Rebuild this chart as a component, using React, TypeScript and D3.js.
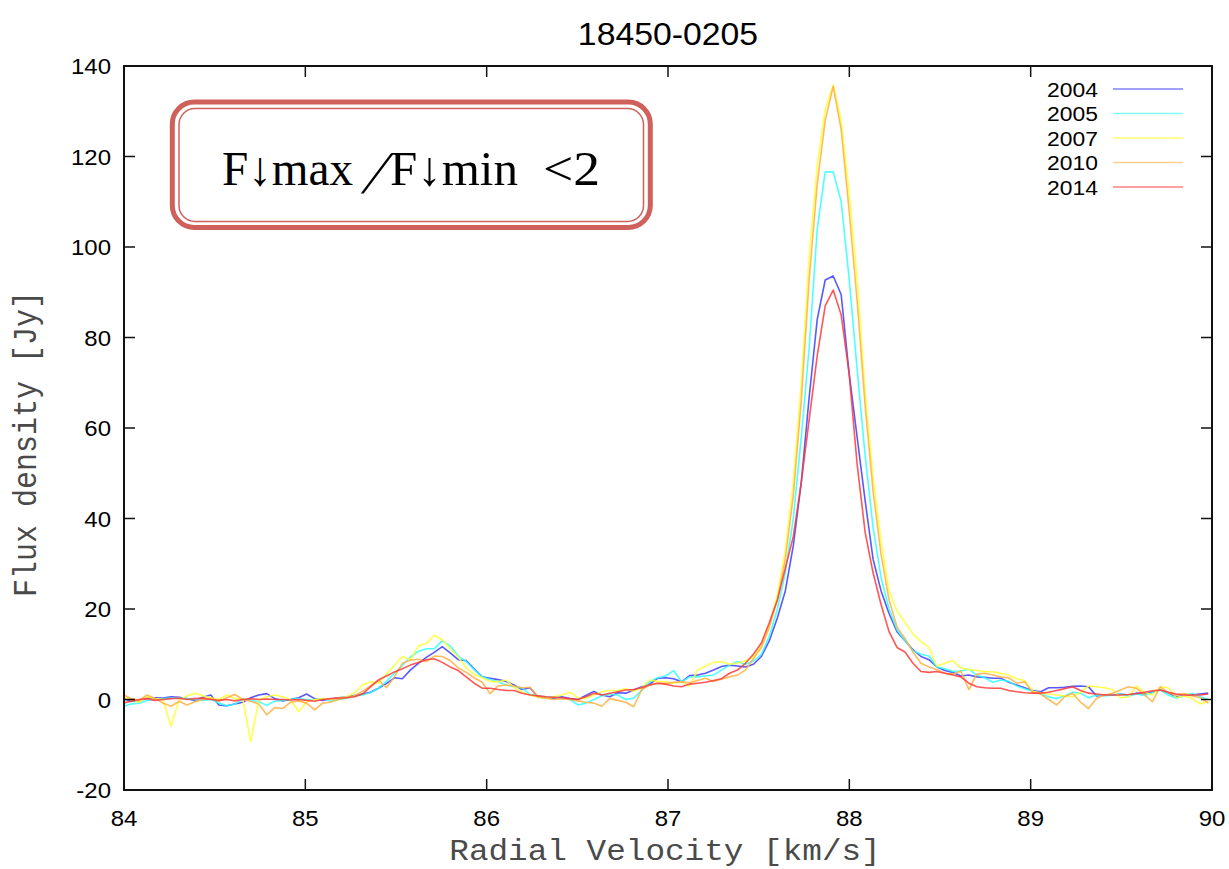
import React from 'react';
import * as d3 from 'd3';

const TITLE = '18450-0205';
const X_LABEL = 'Radial Velocity [km/s]';
const Y_LABEL = 'Flux density [Jy]';
const YEARS = ['2004', '2005', '2007', '2010', '2014'];
const COLORS = ['#3c3cff', '#30ffff', '#ffff30', '#ffb040', '#ff3838'];
const LEGEND_COLORS = ['#8080ff', '#80ffff', '#ffff70', '#ffd090', '#ff8080'];
const X_TICKS = [84, 85, 86, 87, 88, 89, 90];
const Y_TICKS = [-20, 0, 20, 40, 60, 80, 100, 120, 140];
const CHANNEL_START = 83.995;
const CHANNEL_STEP = 0.044;

const FLUX_2004 = [
  0.2, -0.4, -0.3, 0.3, 0.4, 0.3, 0.6, 0.5, 0.2, -0.2,
  0.5, 1.0, -1.2, -1.4, -1.0, -0.6, 0.4, 1.0, 1.3, 0.2,
  -0.3, 0.0, 0.4, 1.2, 0.2, -0.2, 0.1, 0.4, 0.6, 0.9,
  1.2, 1.6, 2.5, 3.5, 4.8, 4.6, 6.5, 8.0, 9.3, 10.4,
  11.7, 10.3, 8.8, 8.6, 6.8, 5.0, 4.7, 4.4, 4.0, 3.2,
  2.2, 2.6, 0.5, 0.4, 0.3, 0.6, 0.2, 0.0, 0.9, 1.8,
  1.0, 0.6, 1.5, 1.4, 2.1, 2.8, 3.4, 4.7, 4.8, 4.6,
  3.9, 5.3, 5.4, 5.8, 6.5, 7.3, 7.6, 7.4, 7.2, 7.8,
  9.5, 13, 18, 24, 34, 48, 67, 84, 92.7, 93.6,
  89.5, 72, 58, 44, 31, 24, 19, 15, 13, 11,
  9.5, 8.8, 7.2, 6.4, 6.0, 5.2, 5.4, 5.0, 4.9, 4.7,
  4.7, 3.8, 3.2, 2.6, 2.0, 1.7, 2.6, 2.6, 2.7, 2.9,
  3.0, 2.8, 0.8, 1.0, 1.0, 1.2, 1.0, 1.4, 1.2, 1.6,
  2.1, 1.5, 0.6, 0.9, 1.0, 1.2, 1.4,
];

const FLUX_2005 = [
  -1.6, -1.0, -0.8, -0.2, 0.0, 0.2, 0.3, 0.4, 0.2, 0.0,
  -0.2, 0.0, -0.8, -1.4, -1.0, 0.1, -0.2, -0.5, -1.3, -0.4,
  -0.2, 0.0, 0.2, 0.0, -0.1, 0.2, -0.4, 0.0, 0.3, 0.8,
  1.0, 1.5, 2.5, 4.0, 5.8, 7.5, 9.4, 10.6, 11.2, 11.2,
  13.0, 11.8, 9.6, 8.4, 6.6, 5.0, 4.4, 3.9, 3.2, 2.8,
  2.6, 1.1, 0.8, 0.6, 0.6, 0.3, 0.0, -1.2, -0.8, 0.0,
  0.8, 1.2, 1.0, 0.0, 0.3, 2.0, 3.9, 4.8, 5.2, 6.4,
  3.9, 5.0, 5.0, 5.2, 5.4, 6.5, 7.6, 8.4, 7.8, 8.5,
  10, 14, 20, 28, 40, 58, 78, 104, 116.6, 116.6,
  110, 93, 73, 54, 38, 27, 20, 15.4, 13, 10.8,
  10, 9.6, 7.2, 6.8, 6.2, 6.3, 6.7, 5.4, 4.8, 3.8,
  4.3, 4.0, 3.0, 2.4, 1.8, 1.2, 0.6, 0.2, 0.8, 1.6,
  1.4, 0.4, 1.0, 0.8, 1.0, 1.2, 0.7, 1.2, 0.9, 1.5,
  2.1, 1.0, 0.3, 0.8, 1.4, 0.6, 0.0,
];

const FLUX_2007 = [
  0.5, 0.0, -0.6, 0.6, 0.2, 0.0, -5.9, -0.2, 0.8, 1.4,
  0.8, 0.4, 0.0, 1.0, 0.2, 0.0, -9.3, -0.2, 0.6, 1.0,
  0.6, 0.0, -2.7, -0.5, 0.0, 0.2, 0.0, 0.3, 0.6, 1.5,
  3.2, 3.9, 3.6, 5.6, 7.5, 9.5, 8.8, 11.8, 12.4, 14.2,
  13.2, 11.2, 9.4, 7.0, 5.6, 4.8, 4.0, 3.9, 4.3, 2.7,
  1.6, 1.0, 0.5, 0.3, 0.6, 1.0, 1.6, 0.4, 0.2, 1.0,
  1.7, 2.0, 2.0, 2.4, 1.8, 2.6, 4.3, 4.0, 3.9, 3.6,
  3.9, 3.0, 6.5, 7.4, 8.2, 8.4, 7.8, 8.0, 8.5, 9.5,
  12, 16.5, 23, 33, 48, 70, 98, 118, 130.5, 135.8,
  128, 112, 93, 68, 49, 35, 24, 19.5, 17, 14.5,
  12.8, 11.5, 7.4, 8.0, 8.6, 7.0, 6.6, 6.4, 6.2, 6.1,
  5.8, 5.4, 4.6, 4.2, 1.8, 1.5, 1.2, 1.0, 0.8, 0.6,
  1.6, 3.0, 2.8, 2.6, 2.2, 0.4, 0.6, 3.0, 1.6, 1.0,
  2.8, 2.6, 0.4, 0.8, 0.2, -1.0, -0.4,
];

const FLUX_2010 = [
  1.1, 0.2, -0.2, 1.0, 0.2, -0.8, -1.5, -0.4, -1.2, -0.5,
  0.0, 0.2, -0.4, 0.4, 1.1, 0.0, -0.4, -1.0, -3.4, -1.8,
  -2.0, -0.6, -0.3, -0.8, -2.3, -0.8, -0.6, 0.0, 0.4, 0.8,
  1.8, 3.0, 4.3, 2.6, 5.0, 8.0, 8.7, 8.9, 8.4, 9.6,
  9.5, 8.6, 7.0, 6.0, 4.8, 3.8, 1.3, 3.0, 3.2, 3.0,
  2.6, 2.7, 0.6, 0.3, 0.0, 0.2, 0.0, -0.3, -0.6, -0.8,
  -1.5, 0.2, -0.2, -0.6, -1.6, 2.2, 3.2, 3.6, 3.5, 3.8,
  3.9, 3.7, 4.2, 4.7, 4.0, 4.5, 5.0, 5.4, 6.5, 9.0,
  11.5, 16, 22, 31, 45, 66, 93, 114, 128, 135.5,
  126, 108, 88, 65, 46, 32, 22, 16, 13.5, 10.5,
  8.0, 7.2, 6.6, 5.8, 5.6, 6.3, 2.2, 5.6, 5.8, 5.4,
  5.0, 4.8, 3.6, 3.9, 1.6, 1.2, 0.0, -1.2, 0.6, 1.4,
  -0.6, -2.0, 0.2, 1.0, 1.4, 2.1, 2.8, 2.5, 1.0, -0.5,
  2.8, 1.5, 1.0, 1.3, 0.8, 0.4, -0.8,
];

const FLUX_2014 = [
  -0.8, -0.4, 0.0, 0.2, -0.2, 0.0, 0.2, 0.3, 0.0, 0.2,
  0.3, 0.0, -0.2, 0.0, -0.3, 0.0, 0.2, 0.0, 0.1, 0.0,
  0.0, -0.1, 0.0, -0.2, -0.4, 0.0, 0.2, 0.3, 0.4, 0.6,
  1.2, 2.8, 4.3, 5.2, 6.1, 6.8, 7.6, 8.2, 8.8, 9.0,
  8.2, 7.2, 6.4, 5.0, 3.6, 2.5, 2.5, 2.2, 2.0, 2.0,
  1.4, 1.0, 0.8, 0.6, 0.5, 0.4, 0.2, 0.0, 0.6, 1.4,
  1.0, 1.4, 1.7, 2.1, 2.2, 2.6, 3.2, 3.6, 3.4, 3.0,
  2.8, 3.4, 3.6, 3.8, 4.2, 4.6, 5.8, 6.5, 8.0, 10.0,
  12.5, 17, 22, 29, 36, 48, 62, 76, 87, 90.5,
  85, 72, 52, 37, 28, 21, 15, 11.5, 10.5, 8,
  6.2, 6.0, 6.2, 5.8, 5.4, 5.0, 3.6, 2.8, 2.6, 2.5,
  2.5, 2.0, 1.7, 1.5, 1.4, 1.4, 1.6, 2.0, 2.4, 2.8,
  2.0, 1.4, 1.2, 1.0, 1.0, 1.0, 1.1, 1.3, 1.6, 1.9,
  2.1, 1.6, 1.2, 1.0, 1.0, 1.0, 1.2,
];

const SERIES = [FLUX_2004, FLUX_2005, FLUX_2007, FLUX_2010, FLUX_2014];

const W = 1229;
const H = 869;
const M = { left: 124, right: 1212, top: 66, bottom: 790 };
const SX = 1.09; // horizontal stretch of the original image's text
const SANS = "'Liberation Sans', Arial, Helvetica, sans-serif";
const MONO = "'Liberation Mono', 'DejaVu Sans Mono', monospace";
const SERIF = "'Liberation Serif', 'DejaVu Serif', serif";
const BOX_RED = '#d0605c';

function SText(props: { x: number; y: number; anchor?: string; size: number; family: string; fill?: string; children: React.ReactNode }) {
  const { x, y, anchor = 'start', size, family, fill = '#000', children } = props;
  return (
    <text
      transform={`translate(${x},${y}) scale(${SX},1)`}
      textAnchor={anchor}
      fontSize={size}
      fontFamily={family}
      fill={fill}
    >
      {children}
    </text>
  );
}

export default function App() {
  const x = d3.scaleLinear().domain([84, 90]).range([M.left, M.right]);
  const y = d3.scaleLinear().domain([-20, 140]).range([M.bottom, M.top]);
  const velocities = d3.range(FLUX_2004.length).map((i) => CHANNEL_START + CHANNEL_STEP * i);
  const line = d3
    .line<number>()
    .x((_, i) => x(velocities[i]))
    .y((d) => y(d));
  const tick = 11;

  return (
    <svg width={W} height={H} style={{ position: 'absolute', left: 0, top: 0, background: '#fff' }}>
      <defs>
        <clipPath id="plot">
          <rect x={M.left} y={M.top} width={M.right - M.left} height={M.bottom - M.top} />
        </clipPath>
      </defs>
      <rect width={W} height={H} fill="#fff" />

      {/* title */}
      <SText x={(M.left + M.right) / 2} y={45} anchor="middle" size={31} family={SANS}>
        {TITLE}
      </SText>

      {/* series */}
      <g clipPath="url(#plot)">
        {SERIES.map((s, k) => (
          <path key={YEARS[k]} d={line(s) || ''} fill="none" stroke={COLORS[k]} strokeWidth={1.6} strokeOpacity={0.85} strokeLinejoin="round" />
        ))}
      </g>

      {/* ticks (mirrored on all sides, inward) */}
      <g stroke="#111" strokeWidth={1.5}>
        {X_TICKS.map((t) => (
          <g key={'xt' + t}>
            <line x1={x(t)} x2={x(t)} y1={M.bottom} y2={M.bottom - tick} />
            <line x1={x(t)} x2={x(t)} y1={M.top} y2={M.top + tick} />
          </g>
        ))}
        {Y_TICKS.map((t) => (
          <g key={'yt' + t}>
            <line x1={M.left} x2={M.left + tick} y1={y(t)} y2={y(t)} />
            <line x1={M.right} x2={M.right - tick} y1={y(t)} y2={y(t)} />
          </g>
        ))}
      </g>

      {/* frame */}
      <rect x={M.left} y={M.top} width={M.right - M.left} height={M.bottom - M.top} fill="none" stroke="#111" strokeWidth={2} />

      {/* tick labels */}
      {Y_TICKS.map((t) => (
        <SText key={'yl' + t} x={111} y={y(t) + 8} anchor="end" size={22} family={SANS}>
          {String(t)}
        </SText>
      ))}
      {X_TICKS.map((t) => (
        <SText key={'xl' + t} x={x(t)} y={826} anchor="middle" size={22} family={SANS}>
          {String(t)}
        </SText>
      ))}

      {/* axis titles */}
      <SText x={665} y={860} anchor="middle" size={30} family={MONO} fill="#4a4a4a">
        {X_LABEL}
      </SText>
      <text
        transform={`translate(36,444) rotate(-90) scale(1,${SX})`}
        textAnchor="middle"
        fontSize={30}
        fontFamily={MONO}
        fill="#4a4a4a"
      >
        {Y_LABEL}
      </text>

      {/* legend */}
      {YEARS.map((yr, k) => {
        const ly = 89 + k * 24.5;
        return (
          <g key={'lg' + yr}>
            <SText x={1098} y={ly + 7.5} anchor="end" size={21} family={SANS}>
              {yr}
            </SText>
            <line x1={1113} x2={1183} y1={ly} y2={ly} stroke={LEGEND_COLORS[k]} strokeWidth={1.5} />
          </g>
        );
      })}

      {/* annotation box */}
      <g>
        <rect x={172.3} y={102} width={478} height={125.5} rx={22} ry={22} fill="#fff" stroke={BOX_RED} strokeWidth={5} />
        <rect x={179} y={108.5} width={464.5} height={113} rx={16} ry={16} fill="none" stroke={BOX_RED} strokeWidth={1.5} />
        <g fontSize={48} fontFamily={SERIF} fill="#000">
          <text x={222} y={185} textLength={131} lengthAdjust="spacingAndGlyphs">{'F\u2193max'}</text>
          <text transform="translate(361,193) skewX(-22)" fontSize={60}>{'/'}</text>
          <text x={390} y={185} textLength={128} lengthAdjust="spacingAndGlyphs">{'F\u2193min'}</text>
          <text x={543} y={185} textLength={57} lengthAdjust="spacingAndGlyphs">{'<2'}</text>
        </g>
      </g>
    </svg>
  );
}
